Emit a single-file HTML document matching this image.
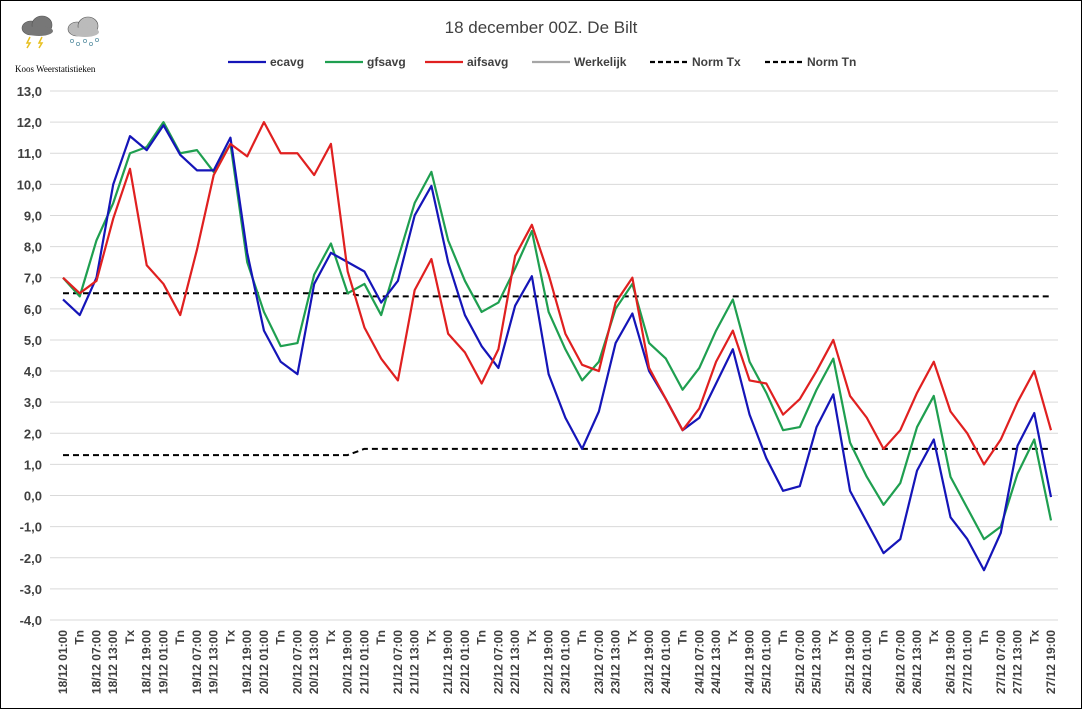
<!DOCTYPE html>
<html><head><meta charset="utf-8"><style>
body{margin:0;background:#fff;font-family:"Liberation Sans",sans-serif}
#wrap{width:1082px;height:709px;position:relative;overflow:hidden}
</style></head><body>
<div id="wrap">
<svg id="chart" width="1082" height="709"></svg>
</div>
<script>
const categories=[];
const days=['18','19','20','21','22','23','24','25','26','27'];
days.forEach(d=>{categories.push(d+'/12 01:00','Tn',d+'/12 07:00',d+'/12 13:00','Tx',d+'/12 19:00');});
const ecavg=[6.3,5.8,7.0,10.0,11.55,11.1,11.9,10.95,10.45,10.45,11.5,7.8,5.3,4.3,3.9,6.8,7.8,7.5,7.2,6.2,6.9,9.0,9.95,7.5,5.8,4.8,4.1,6.1,7.05,3.9,2.5,1.5,2.7,4.9,5.85,4.0,3.1,2.1,2.5,3.6,4.7,2.6,1.2,0.15,0.3,2.2,3.25,0.15,-0.85,-1.85,-1.4,0.8,1.8,-0.7,-1.4,-2.4,-1.2,1.6,2.65,-0.05];
const gfsavg=[7.0,6.4,8.2,9.4,11.0,11.2,12.0,11.0,11.1,10.4,11.3,7.5,5.9,4.8,4.9,7.1,8.1,6.5,6.8,5.8,7.6,9.4,10.4,8.2,6.9,5.9,6.2,7.3,8.5,5.9,4.7,3.7,4.3,6.0,6.8,4.9,4.4,3.4,4.1,5.3,6.3,4.3,3.3,2.1,2.2,3.4,4.4,1.7,0.6,-0.3,0.4,2.2,3.2,0.6,-0.4,-1.4,-1.0,0.7,1.8,-0.8];
const aifsavg=[7.0,6.5,6.9,8.9,10.5,7.4,6.8,5.8,7.9,10.3,11.3,10.9,12.0,11.0,11.0,10.3,11.3,7.2,5.4,4.4,3.7,6.6,7.6,5.2,4.6,3.6,4.7,7.7,8.7,7.1,5.2,4.2,4.0,6.2,7.0,4.1,3.1,2.1,2.8,4.3,5.3,3.7,3.6,2.6,3.1,4.0,5.0,3.2,2.5,1.5,2.1,3.3,4.3,2.7,2.0,1.0,1.8,3.0,4.0,2.1];
const normTx=categories.map((c,i)=>i<=17?6.5:6.4);
const normTn=categories.map((c,i)=>i<=17?1.3:1.5);
const yTicks=[13,12,11,10,9,8,7,6,5,4,3,2,1,0,-1,-2,-3,-4];

const svg=document.getElementById('chart');
const NS='http://www.w3.org/2000/svg';
function mk(t,a,p){const e=document.createElementNS(NS,t);for(const k in a)e.setAttribute(k,a[k]);(p||svg).appendChild(e);return e;}
const x=i=>63+i*(1051-63)/(categories.length-1);
const y=v=>91+(13-v)*(620-91)/17;

const border=mk('rect',{x:0.5,y:0.5,width:1081,height:708,fill:'none',stroke:'#000','stroke-width':1});



const title=mk('text',{x:541,y:33,'text-anchor':'middle','font-size':17,fill:'#404040'});
title.textContent='18 december 00Z. De Bilt';



const ic=mk('g',{});


[[37,28,'#777'],[83,29,'#bbb']].forEach(([cx,cy,c])=>{
 mk('ellipse',{cx:cx-6,cy:cy,rx:9,ry:7,fill:c,stroke:'#555','stroke-width':0.6},ic);
 mk('ellipse',{cx:cx+5,cy:cy-3,rx:10,ry:9,fill:c,stroke:'#555','stroke-width':0.6},ic);
 mk('ellipse',{cx:cx+2,cy:cy+3,rx:14,ry:5,fill:c},ic);
});
mk('path',{d:'M30 37 l-3 6 l3 0 l-3 5 M42 37 l-3 6 l3 0 l-3 5',stroke:'#e8c020','stroke-width':1.5,fill:'none'},ic);
[[72,41],[78,44],[85,41],[91,44],[97,40]].forEach(([a,b])=>mk('circle',{cx:a,cy:b,r:1.6,fill:'none',stroke:'#69a','stroke-width':0.8},ic));
const kw=mk('text',{x:15,y:72,'font-size':9,'font-family':'Liberation Serif, serif',fill:'#000'});
kw.textContent='Koos Weerstatistieken';



yTicks.forEach(v=>{
 const g=mk('line',{x1:50,x2:1058,y1:y(v),y2:y(v),stroke:'#d9d9d9','stroke-width':1});
 
 
 const t=mk('text',{x:42,y:y(v)+5,'text-anchor':'end','font-size':13,'font-weight':'bold',fill:'#404040'});
 t.textContent=v.toFixed(1).replace('.',',');
 
 
});
categories.forEach((c,i)=>{
 const t=mk('text',{transform:`translate(${x(i)+4},630) rotate(-90)`,'text-anchor':'end','font-size':12,'font-weight':'bold',fill:'#404040'});
 t.textContent=c;
 
 
});
function line(arr,color,name,dash){
 const p=mk('polyline',{points:arr.map((v,i)=>x(i)+','+y(v)).join(' '),fill:'none',stroke:color,'stroke-width':dash?2:2.2,'stroke-dasharray':dash?'6,4':'none','stroke-linejoin':'round'});
 
 
}
line(normTx,'#000','norm-tx-line',true);
line(normTn,'#000','norm-tn-line',true);
line(gfsavg,'#1f9f50','gfsavg-line');
line(ecavg,'#1515b8','ecavg-line');
line(aifsavg,'#e02020','aifsavg-line');

const legend=[['ecavg','#1515b8',228,false],['gfsavg','#1f9f50',325,false],['aifsavg','#e02020',425,false],['Werkelijk','#a6a6a6',532,false],['Norm Tx','#000',650,true],['Norm Tn','#000',765,true]];
legend.forEach(([n,c,lx,d])=>{
 const g=mk('g',{});
 
 
 mk('line',{x1:lx,x2:lx+38,y1:62,y2:62,stroke:c,'stroke-width':2.2,'stroke-dasharray':d?'5,3':'none'},g);
 const t=mk('text',{x:lx+42,y:66,'font-size':12,'font-weight':'bold',fill:'#404040'},g);
 t.textContent=n;
});
</script>
</body></html>
